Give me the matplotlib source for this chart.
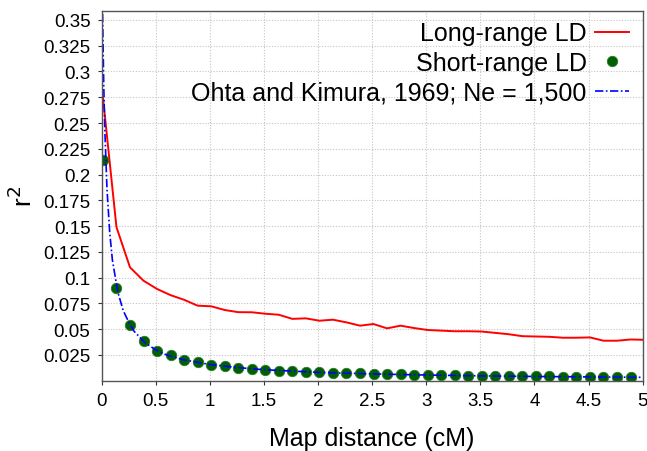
import matplotlib
matplotlib.use('Agg')
import matplotlib.pyplot as plt

plt.rcParams['font.family'] = ['Liberation Sans', 'DejaVu Sans']

# bin centres (cM)
dist = [0.0125, 0.1375, 0.2625, 0.3875, 0.5125, 0.6375, 0.7625, 0.8875, 1.0125, 1.1375,
        1.2625, 1.3875, 1.5125, 1.6375, 1.7625, 1.8875, 2.0125, 2.1375, 2.2625, 2.3875,
        2.5125, 2.6375, 2.7625, 2.8875, 3.0125, 3.1375, 3.2625, 3.3875, 3.5125, 3.6375,
        3.7625, 3.8875, 4.0125, 4.1375, 4.2625, 4.3875, 4.5125, 4.6375, 4.7625, 4.8875,
        5.0125]

long_ld = [0.275, 0.149, 0.110, 0.097, 0.089, 0.083, 0.0785, 0.0728, 0.0722, 0.0686,
           0.0665, 0.0664, 0.065, 0.064, 0.060, 0.0605, 0.0582, 0.0592, 0.0566, 0.0534,
           0.055, 0.0508, 0.0534, 0.0511, 0.0492, 0.0486, 0.048, 0.048, 0.0477, 0.0464,
           0.0451, 0.0432, 0.0429, 0.0426, 0.0417, 0.0417, 0.042, 0.0388, 0.0388, 0.040,
           0.0397]

short_ld = [0.2144, 0.0896, 0.0543, 0.0382, 0.0291, 0.0248, 0.0203, 0.0178, 0.0157, 0.0138,
            0.0124, 0.0113, 0.0105, 0.0097, 0.0091, 0.0086, 0.0082, 0.0078, 0.0074, 0.0070,
            0.0067, 0.0064, 0.0061, 0.0058, 0.0056, 0.0054, 0.0052, 0.0050, 0.0048, 0.0047,
            0.0045, 0.0044, 0.0042, 0.0041, 0.0040, 0.0039, 0.0038, 0.0037, 0.0036, 0.0035]

# expected r^2 curve (Ohta and Kimura, Ne = 1,500)
ok_x = [0.0, 0.01, 0.02, 0.03, 0.05, 0.075, 0.1, 0.15, 0.2, 0.25, 0.3, 0.4, 0.5, 0.6,
        0.75, 1.0, 1.25, 1.5, 2.0, 2.5, 3.0, 3.5, 4.0, 4.5, 5.0]
ok_y = [0.45, 0.35, 0.287, 0.243, 0.186, 0.144, 0.117, 0.086, 0.068, 0.057, 0.048, 0.037,
        0.030, 0.025, 0.0205, 0.0157, 0.0128, 0.0107, 0.0081, 0.0066, 0.0055, 0.0047,
        0.0041, 0.0037, 0.0033]

xticks = [0, 0.5, 1, 1.5, 2, 2.5, 3, 3.5, 4, 4.5, 5]
xticklabels = ['0', '0.5', '1', '1.5', '2', '2.5', '3', '3.5', '4', '4.5', '5']
yticks = [0.025, 0.05, 0.075, 0.1, 0.125, 0.15, 0.175, 0.2, 0.225, 0.25, 0.275, 0.3, 0.325, 0.35]
yticklabels = ['0.025', '0.05', '0.075', '0.1', '0.125', '0.15', '0.175', '0.2', '0.225',
               '0.25', '0.275', '0.3', '0.325', '0.35']

fig = plt.figure(figsize=(6.47, 4.52), dpi=100)
ax = fig.add_axes([0.157, 0.1555, 0.8364, 0.818])

ax.plot(dist, long_ld, color='#ff0000', linewidth=1.4, label='Long-range LD')
ax.plot(dist[:len(short_ld)], short_ld, linestyle='none', marker='o', markersize=7.5,
        markerfacecolor='#006000', markeredgecolor='#2a7a2a', markeredgewidth=0.6,
        label='Short-range LD')
ax.plot(ok_x, ok_y, color='#0000ff', linewidth=1.2, linestyle=(0, (5, 1.5, 1, 1.5)),
        label='Ohta and Kimura, 1969; Ne = 1,500')

ax.set_xlim(0, 5)
ax.set_ylim(0, 0.3587)
ax.set_xticks(xticks)
ax.set_xticklabels(xticklabels)
ax.set_yticks(yticks)
ax.set_yticklabels(yticklabels)
ax.tick_params(labelsize=13.5, length=3, width=0.8, color='#333333', direction='out', pad=5)

ax.grid(True, linestyle=(0, (1, 1.5)), color='#c4c4c4', linewidth=0.8)
ax.set_axisbelow(True)
for s in ax.spines.values():
    s.set_color('#555555')
    s.set_linewidth(1.0)

ax.set_xlabel('Map distance (cM)', fontsize=18, va='center')
ax.xaxis.set_label_coords(0.5, -0.155)
ax.set_ylabel(r'r$^2$', fontsize=19, va='center')
ax.yaxis.set_label_coords(-0.145, 0.50)

ax.legend(loc='upper right', bbox_to_anchor=(0.975, 0.972), frameon=False,
          markerfirst=False, fontsize=18, handlelength=1.35, handletextpad=0.35,
          borderpad=0, borderaxespad=0, labelspacing=0.22, numpoints=1)

fig.savefig('out.png', dpi=100)
